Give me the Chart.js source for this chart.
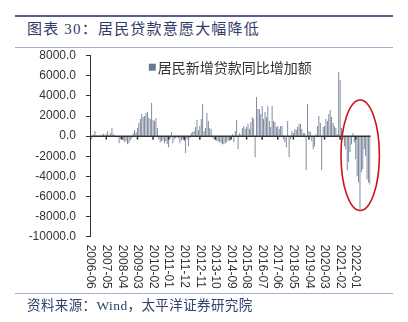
<!DOCTYPE html>
<html>
<head>
<meta charset="utf-8">
<script src="https://cdn.jsdelivr.net/npm/chart.js@4.4.0/dist/chart.umd.min.js"></script>
<style>
  body { margin: 0; background: #fff; }
  #wrap { position: relative; width: 408px; height: 322px; overflow: hidden; }
  #chart { position: absolute; left: 0; top: 0; }
  .rule { position: absolute; left: 15px; width: 378px; }
  #title {
    position: absolute; left: 27px; top: 22px;
    font: 15px/15px "Liberation Serif", "Noto Sans CJK SC", serif;
    letter-spacing: 1.2px; color: #2f3c6c; white-space: nowrap;
  }
  #source {
    position: absolute; left: 27px; top: 299px;
    font: 13.5px/14px "Liberation Serif", "Noto Sans CJK SC", serif;
    letter-spacing: 0.4px; color: #34406e; white-space: nowrap;
  }
</style>
</head>
<body>
<div id="wrap">
  <div class="rule" style="top:15px;height:2px;background:#5a5e8e"></div>
  <div id="title">图表 30：居民贷款意愿大幅降低</div>
  <div class="rule" style="top:47px;height:1px;background:#a9acd0"></div>
  <canvas id="chart" width="408" height="322"></canvas>
  <div class="rule" style="top:293px;height:1px;background:#a9acd0"></div>
  <div id="source">资料来源：Wind，太平洋证券研究院</div>
</div>
<script>
// Series name shown in the legend
const seriesName = '居民新增贷款同比增加额';

// Monthly categories, 2006-06 .. 2022-11
const startYear = 2006, startMonth = 6, monthCount = 198;
const months = [];
for (let i = 0; i < monthCount; i++) {
  const m = startMonth - 1 + i;
  const yy = startYear + Math.floor(m / 12);
  const mm = (m % 12) + 1;
  months.push(yy + '-' + String(mm).padStart(2, '0'));
}

// Year-over-year change of new household loans (100m yuan), one row per calendar year
const loanYoy = [
  100, 50, 150, 500, 100, 0, 50,                                               // 2006 Jun-Dec
  100, 150, 250, 100, 200, 500, 100, 300, 800, 200, 100, -100,                 // 2007
  0, -700, -300, -200, -400, -600, -500, -800, -700, -400, -200, 300,          // 2008
  600, 400, 800, 1300, 1700, 2200, 1900, 2000, 2300, 2400, 1800, 1700,         // 2009
  3300, 1600, 1500, 1800, 800, -300, -600, -500, -400, -700, -500, -800,       // 2010
  -1100, -300, 400, -700, -300, -200, -100, -200, -700, -400, -300, -500,      // 2011
  -1700, -300, -1000, -200, 300, 400, 500, 900, 1600, 600, 1000, 1700,         // 2012
  3200, 500, 800, 2300, 1500, 800, 700, -100, -300, -400, -500, -500,          // 2013
  -600, -700, -800, -800, -700, -600, -400, -500, -300, 200, -600, 500,        // 2014
  1600, -1300, 300, 200, 800, 1000, 700, 900, 1200, 700, 1400, 1900,           // 2015
  1700, -2100, 3900, 2700, 2700, 2200, 3000, 1700, 2400, 1900, 3000, 1500,     // 2016
  900, 3000, 1500, 1400, 900, 1000, 700, 1000, 1000, -300, -600, -1100,        // 2017
  1500, -2100, -300, 500, 300, 700, 600, 900, 1200, 1200, 700, 300,            // 2018
  300, -3400, 3200, 500, 400, -500, -1300, -1000, 200, 1000, 2000, 1300,       // 2019
  -3400, 900, 1000, 1700, 1500, 2200, 2600, 1900, 1300, 1000, 800, 200,        // 2020
  6400, 5600, 800, -300, -1000, -1300, -3400, -2600, -1600, -800, 300, -600,   // 2021
  -2300, -4000, -4600, -7300, -3600, -3300, -1300, -2000, -4300, -4600, -4800  // 2022 Jan-Nov
];

// Value axis
const yMin = -10000, yMax = 8000, yStep = 2000;
// A month label every 11 months
const labelStep = 11;
// Highlight ellipse around the recent drop: category span and value span
const ringFrom = 176.6, ringTo = 203.7, ringTop = 3600, ringBottom = -7400;

const barColor = '#6a788f';

const baseAxis = {
  id: 'baseAxis',
  afterDatasetsDraw(chart) {
    const { ctx, chartArea, scales: { x, y } } = chart;
    const y0 = y.getPixelForValue(0);
    ctx.save();
    // zero line with tick marks
    ctx.strokeStyle = '#333';
    ctx.lineWidth = 1.5;
    ctx.beginPath();
    ctx.moveTo(chartArea.left, y0);
    ctx.lineTo(chartArea.right, y0);
    ctx.stroke();
    ctx.font = '12px "Liberation Sans", Arial, sans-serif';
    ctx.fillStyle = '#333';
    ctx.textAlign = 'left';
    ctx.textBaseline = 'middle';
    for (let i = 0; i < months.length; i += labelStep) {
      const px = x.getPixelForValue(i);
      ctx.beginPath();
      ctx.moveTo(px, y0);
      ctx.lineTo(px, y0 + 3.5);
      ctx.stroke();
      // month labels under the plot, turned to read downwards
      ctx.save();
      ctx.translate(px, chartArea.bottom + 8);
      ctx.rotate(Math.PI / 2);
      ctx.fillText(months[i], 0, 0);
      ctx.restore();
    }

    // legend inside the plot, centred at the top
    const ds = chart.data.datasets[0];
    ctx.font = '14px "Noto Sans CJK SC", sans-serif';
    const tw = ctx.measureText(ds.label).width;
    const box = 7, gap = 2;
    const lx = (chartArea.left + chartArea.right) / 2 - (box + gap + tw) / 2;
    const ly = chartArea.top + 11.5;
    ctx.fillStyle = ds.backgroundColor;
    ctx.fillRect(lx, ly - box / 2, box, box);
    ctx.fillStyle = '#333';
    ctx.fillText(ds.label, lx + box + gap, ly);

    // red ring
    const x1 = x.getPixelForValue(ringFrom), x2 = x.getPixelForValue(ringTo);
    const y1 = y.getPixelForValue(ringTop), y2 = y.getPixelForValue(ringBottom);
    ctx.strokeStyle = '#c8141c';
    ctx.lineWidth = 1.6;
    ctx.beginPath();
    ctx.ellipse((x1 + x2) / 2, (y1 + y2) / 2, (x2 - x1) / 2, (y2 - y1) / 2, 0, 0, Math.PI * 2);
    ctx.stroke();
    ctx.restore();
  }
};

new Chart(document.getElementById('chart'), {
  type: 'bar',
  data: {
    labels: months,
    datasets: [{
      label: seriesName,
      data: loanYoy,
      backgroundColor: barColor,
      borderWidth: 0,
      barPercentage: 1,
      categoryPercentage: 0.6
    }]
  },
  options: {
    responsive: false,
    animation: false,
    devicePixelRatio: 1,
    layout: { padding: { left: 0, right: 37.4, top: 55.7, bottom: 85.3 } },
    scales: {
      x: { display: false },
      y: {
        min: yMin,
        max: yMax,
        afterFit: s => { s.width = 90; },
        border: { display: true, color: '#333', width: 1 },
        grid: { drawOnChartArea: false, drawTicks: true, tickLength: 4, color: '#333' },
        ticks: {
          stepSize: yStep,
          padding: 10,
          color: '#333',
          font: { size: 12, family: '"Liberation Sans", Arial, sans-serif' },
          callback: v => v.toFixed(1)
        }
      }
    },
    plugins: {
      legend: { display: false },
      tooltip: { enabled: false }
    }
  },
  plugins: [baseAxis]
});
</script>
</body>
</html>
